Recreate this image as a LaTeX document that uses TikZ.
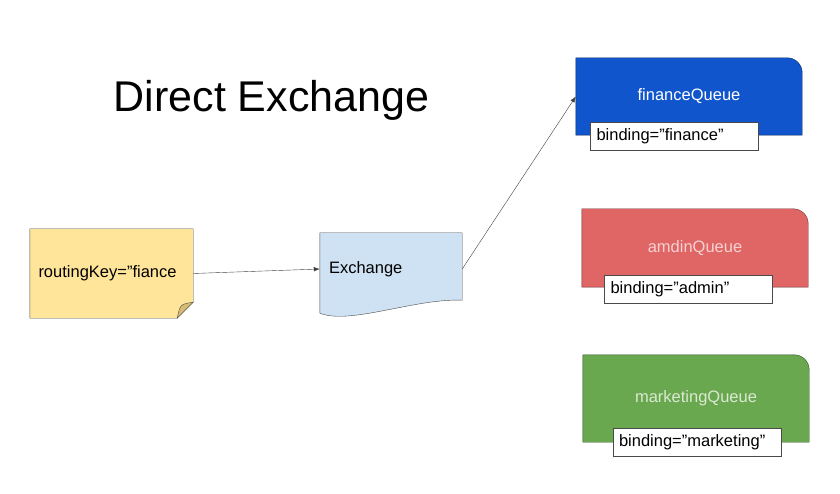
\documentclass[tikz,border=0pt]{standalone}
\usepackage{fontspec}
\setmainfont{Liberation Sans}
\usetikzlibrary{arrows.meta,backgrounds}
\definecolor{notefill}{HTML}{FFE59A}
\definecolor{notefold}{HTML}{D6BC72}
\definecolor{exfill}{HTML}{CFE2F3}
\definecolor{finblue}{HTML}{1155CC}
\definecolor{admred}{HTML}{E06666}
\definecolor{mktgreen}{HTML}{6AA84F}
\definecolor{edge}{HTML}{4A4A4A}

\begin{document}
\begin{tikzpicture}[x=1pt,y=1pt,
  lbl/.style={font=\fontsize{16.5}{19}\selectfont},
  queue/.style={lbl,minimum width=226pt,inner sep=0pt},
  bind/.style={lbl,draw=edge,fill=white,text width=156pt,align=left,inner sep=6pt,minimum height=28pt},
  conn/.style={draw=black!75,-{Latex[length=6pt,width=4.5pt]}}]
\useasboundingbox (0,0) rectangle (840,493);
\node[font=\fontsize{43}{50}\selectfont] (title) at (271.5,393) {Direct Exchange};
\node[lbl,minimum width=163pt,minimum height=89pt,inner sep=0pt,text width=146pt,align=left] (key) at (111.5,219.5) {routingKey="fiance};
\node[lbl,minimum width=142pt,minimum height=72pt,inner sep=0pt,text width=124pt,align=left] (ex) at (391,224) {Exchange};
\node[queue,minimum height=77pt,text=white] (fq) at (689,396.5) {financeQueue};
\node[queue,minimum height=78pt,text=admred!30!white] (aq) at (695,245) {amdinQueue};
\node[queue,minimum height=87pt,text=mktgreen!25!white] (mq) at (696,94.5) {marketingQueue};
\begin{scope}[on background layer]
\filldraw[fill=notefill,draw=edge] (key.north west) -- (key.north east) -- ([yshift=16pt]key.south east) -- ([xshift=-16pt]key.south east) -- (key.south west) -- cycle;
\filldraw[fill=notefold,draw=edge] ([xshift=-16pt]key.south east) .. controls ([shift={(-13,14)}]key.south east) .. ([yshift=16pt]key.south east) -- cycle;
\filldraw[fill=exfill,draw=edge] (ex.north west) -- (ex.north east) -- ([yshift=5pt]ex.south east) .. controls ([shift={(-47,7)}]ex.south east) and ([shift={(30,-20)}]ex.south west) .. ([yshift=-8pt]ex.south west) -- cycle;
\foreach \q/\c in {fq/finblue,aq/admred,mq/mktgreen}
  \filldraw[fill=\c,draw=\c!45!black] (\q.south west) -- (\q.north west) -- ([xshift=-15pt]\q.north east) arc[start angle=90,end angle=0,radius=15pt] -- (\q.south east) -- cycle;
\end{scope}
\node[bind] (fb) at (674.5,356.5) {binding="finance"};
\node[bind] (ab) at (688.5,204) {binding="admin"};
\node[bind] (mb) at (697,50.5) {binding="marketing"};
\draw[conn] (key.east) -- (ex.west);
\draw[conn] (ex.east) -- (fq.west);
\end{tikzpicture}
\end{document}
